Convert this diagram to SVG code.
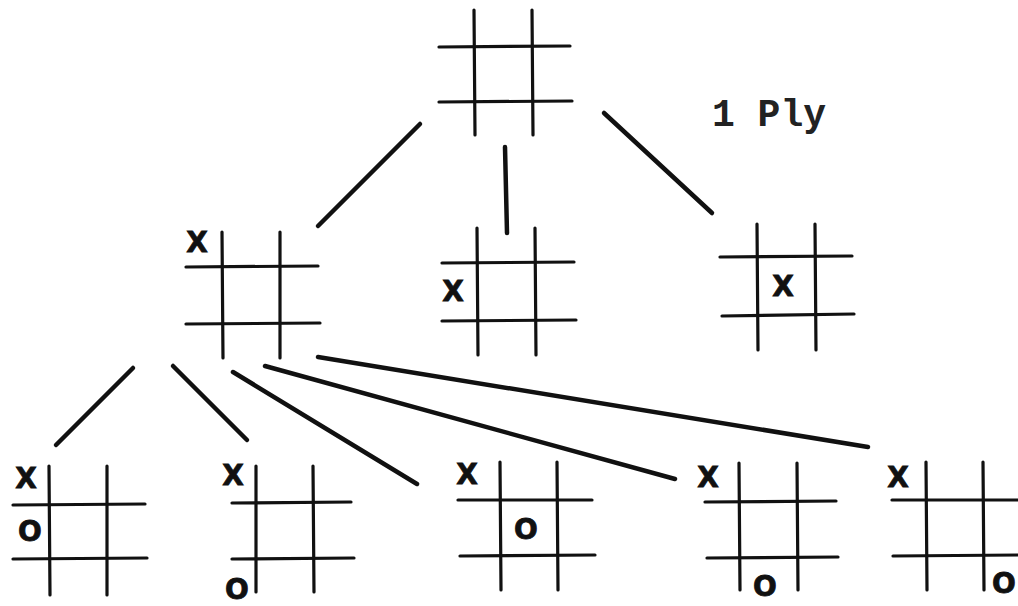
<svg xmlns="http://www.w3.org/2000/svg" width="1018" height="606" viewBox="0 0 1018 606">
<style>
.g line{stroke:#111;stroke-width:3.2;stroke-linecap:round}
.c line{stroke:#111;stroke-width:4.5;stroke-linecap:round}
.m{font-family:"DejaVu Sans","Liberation Sans",sans-serif;font-weight:bold;font-size:28px;fill:#111;stroke:#111;stroke-width:0.8;text-anchor:middle}
.lbl{font-family:"Liberation Mono","DejaVu Sans Mono",monospace;font-weight:bold;font-size:38px;fill:#222}
</style>
<rect width="1018" height="606" fill="#fff"/>
<g id="root" class="g">
<line x1="474" y1="10" x2="475" y2="135"/><line x1="532" y1="10" x2="533" y2="135"/>
<line x1="439" y1="47" x2="570" y2="46"/><line x1="439" y1="102" x2="572" y2="101"/>
</g>
<text class="lbl" x="712" y="126">1 Ply</text>
<g id="m1" class="g">
<line x1="222" y1="232" x2="223" y2="358"/><line x1="280" y1="232" x2="280" y2="358"/>
<line x1="186" y1="267" x2="318" y2="266"/><line x1="186" y1="324" x2="320" y2="323"/>
<text class="m" x="197" y="252">X</text>
</g>
<g id="m2" class="g">
<line x1="477" y1="228" x2="478" y2="355"/><line x1="535" y1="228" x2="536" y2="355"/>
<line x1="442" y1="263" x2="574" y2="262"/><line x1="442" y1="321" x2="576" y2="320"/>
<text class="m" x="453" y="301">X</text>
</g>
<g id="m3" class="g">
<line x1="757" y1="224" x2="758" y2="350"/><line x1="815" y1="224" x2="816" y2="350"/>
<line x1="720" y1="257" x2="852" y2="256"/><line x1="722" y1="316" x2="854" y2="314"/>
<text class="m" x="783" y="296">X</text>
</g>
<g id="b1" class="g">
<line x1="49" y1="466" x2="50" y2="595"/><line x1="107" y1="466" x2="107" y2="595"/>
<line x1="13" y1="505" x2="145" y2="504"/><line x1="13" y1="559" x2="147" y2="558"/>
<text class="m" x="26" y="488">X</text><text class="m" x="30" y="541">O</text>
</g>
<g id="b2" class="g">
<line x1="256" y1="466" x2="256" y2="592"/><line x1="313" y1="466" x2="314" y2="592"/>
<line x1="232" y1="503" x2="351" y2="502"/><line x1="232" y1="559" x2="354" y2="558"/>
<text class="m" x="233" y="485">X</text><text class="m" x="237" y="599">O</text>
</g>
<g id="b3" class="g">
<line x1="500" y1="462" x2="501" y2="590"/><line x1="557" y1="462" x2="558" y2="590"/>
<line x1="458" y1="500" x2="592" y2="500"/><line x1="460" y1="556" x2="595" y2="555"/>
<text class="m" x="467" y="484">X</text><text class="m" x="526" y="539">O</text>
</g>
<g id="b4" class="g">
<line x1="739" y1="463" x2="740" y2="590"/><line x1="797" y1="463" x2="798" y2="590"/>
<line x1="705" y1="502" x2="836" y2="501"/><line x1="707" y1="558" x2="838" y2="557"/>
<text class="m" x="708" y="487">X</text><text class="m" x="765" y="596">O</text>
</g>
<g id="b5" class="g">
<line x1="926" y1="462" x2="927" y2="590"/><line x1="983" y1="462" x2="984" y2="590"/>
<line x1="892" y1="500" x2="1018" y2="500"/><line x1="893" y1="556" x2="1018" y2="555"/>
<text class="m" x="898" y="487">X</text><text class="m" x="1004" y="593">O</text>
</g>
<g id="connectors" class="c">
<line x1="420" y1="124" x2="318" y2="226"/>
<line x1="505" y1="147" x2="507" y2="233"/>
<line x1="604" y1="113" x2="712" y2="213"/>
<line x1="133" y1="368" x2="56" y2="445"/>
<line x1="173" y1="366" x2="247" y2="440"/>
<line x1="233" y1="372" x2="417" y2="484"/>
<line x1="265" y1="366" x2="675" y2="479"/>
<line x1="318" y1="357" x2="868" y2="447"/>
</g>
</svg>
